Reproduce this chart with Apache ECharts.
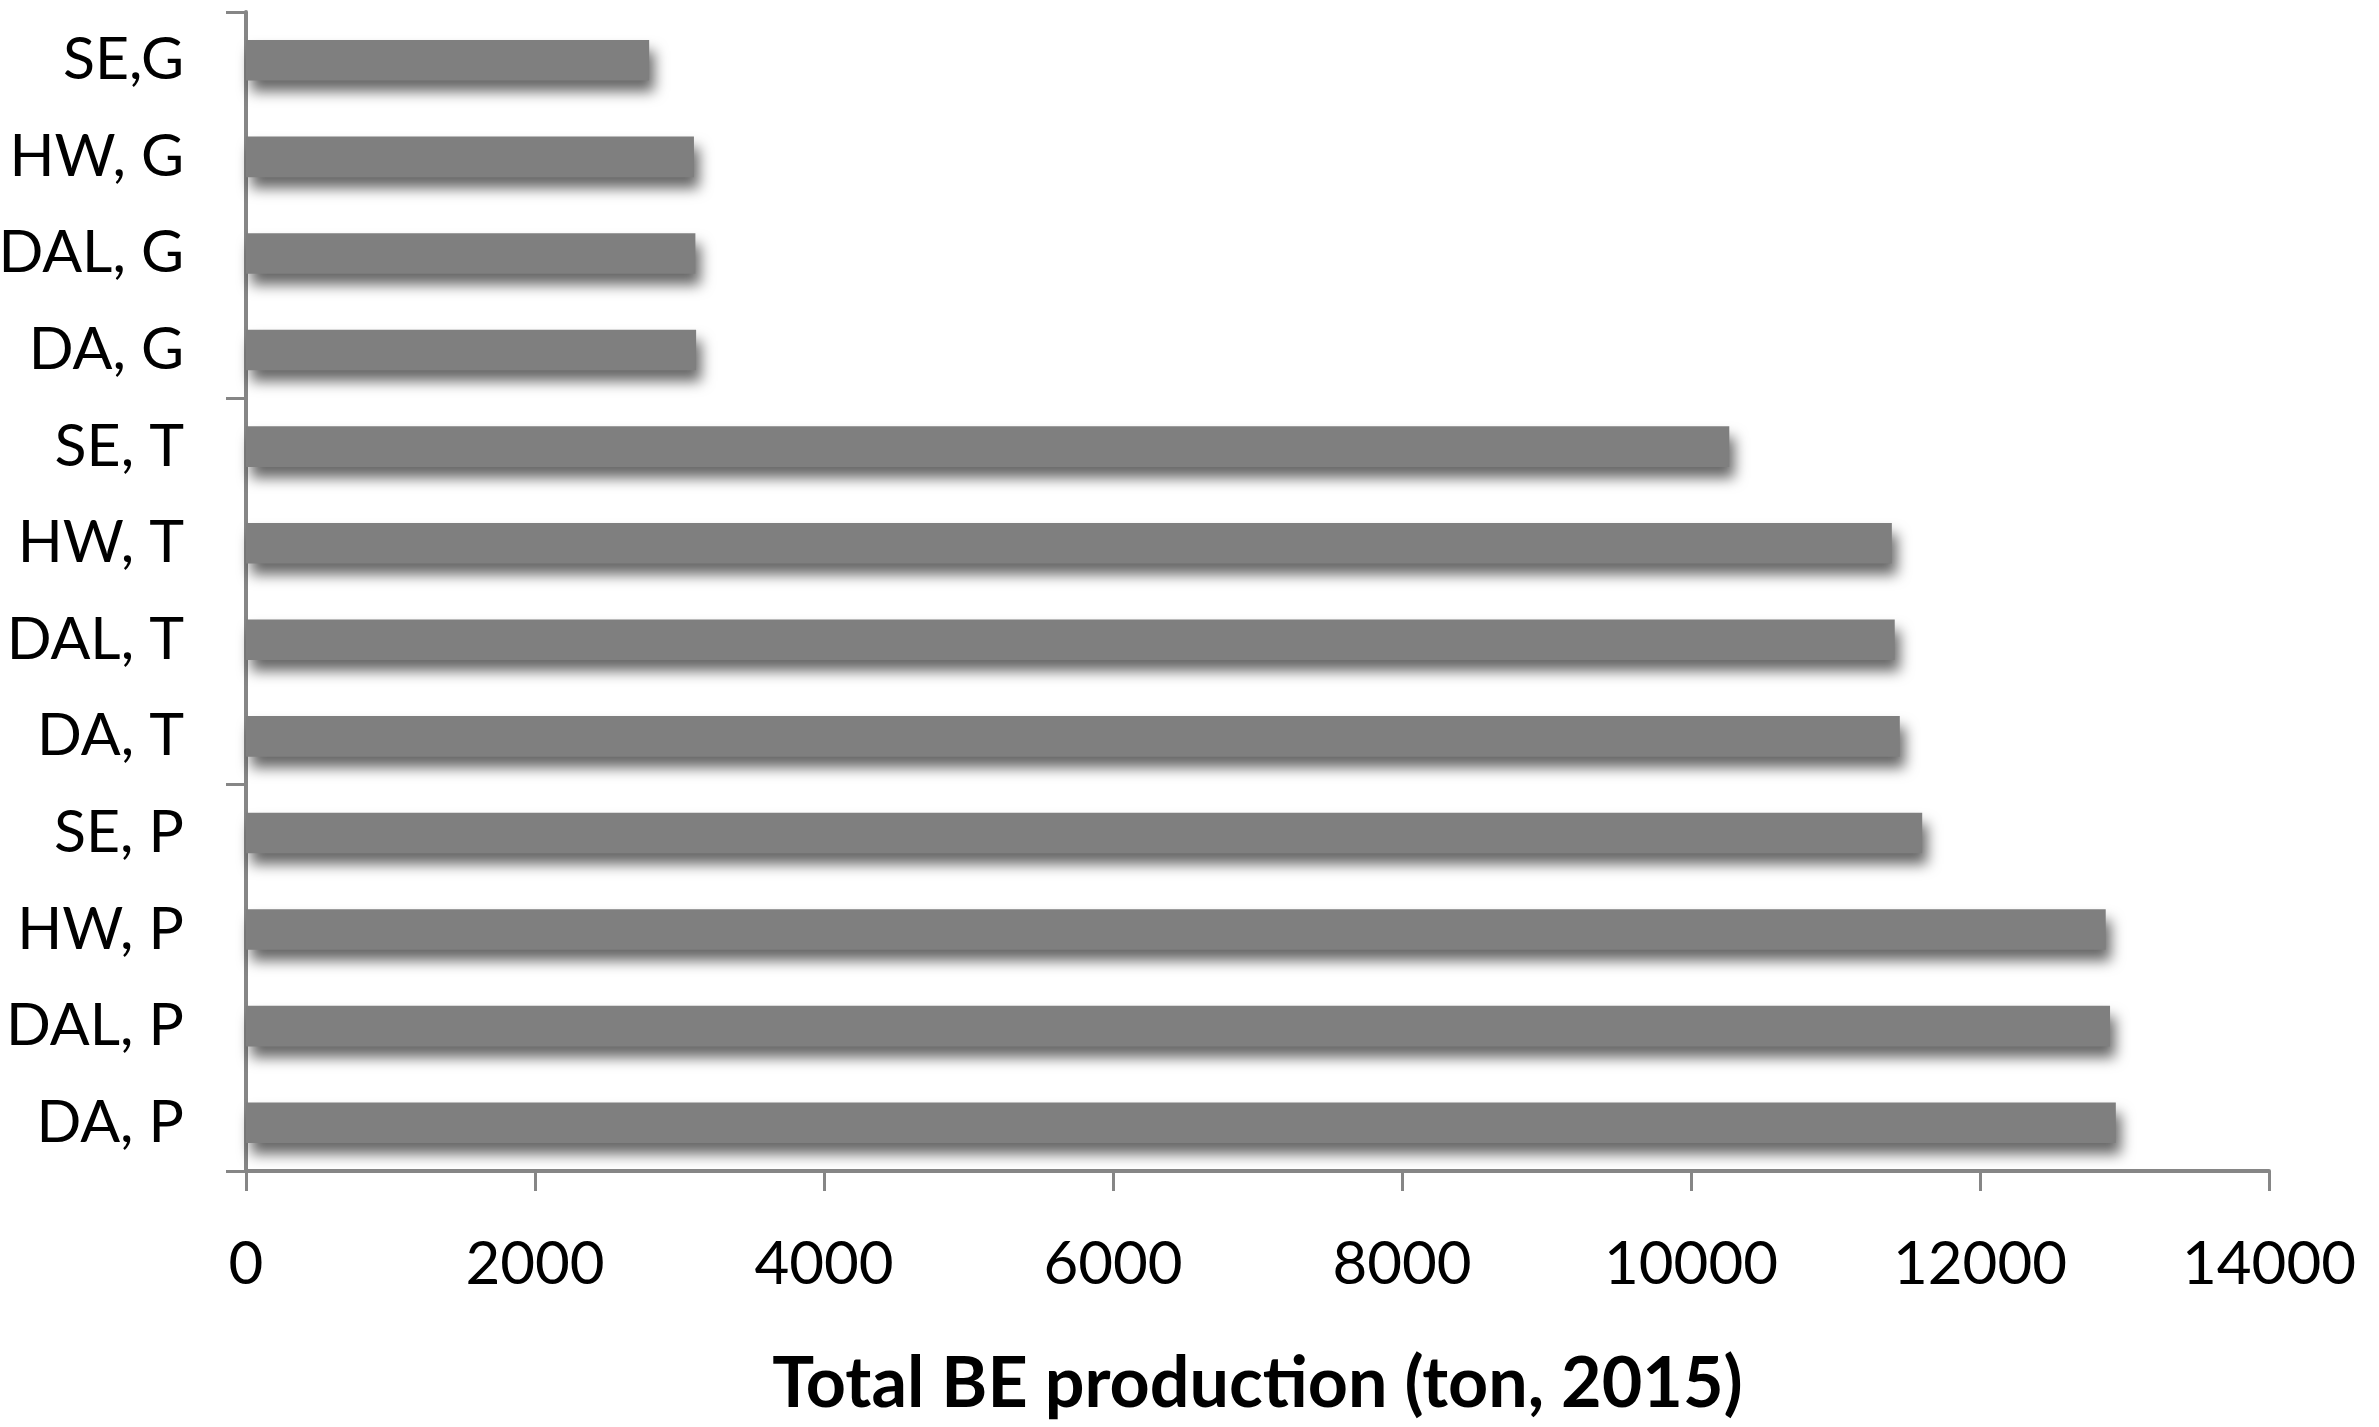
<!DOCTYPE html>
<html>
<head>
<meta charset="utf-8">
<script src="https://cdn.jsdelivr.net/npm/echarts@6/dist/echarts.min.js"></script>
<style>
  html, body { margin: 0; padding: 0; background: #fff; }
  #chart { width: 2379px; height: 1427px; }
</style>
</head>
<body>
<div id="chart"></div>
<script>
// categories top to bottom
var categories = ['SE,G', 'HW, G', 'DAL, G', 'DA, G',
                  'SE, T', 'HW, T', 'DAL, T', 'DA, T',
                  'SE, P', 'HW, P', 'DAL, P', 'DA, P'];
var production = [2790, 3100, 3110, 3115,
                  10265, 11390, 11410, 11445,
                  11600, 12870, 12900, 12940];
var xTicks = [0, 2000, 4000, 6000, 8000, 10000, 12000, 14000];

var axisGrey = '#868686';
var chart = echarts.init(document.getElementById('chart'));

chart.setOption({
    animation: false,
    grid: {
        left: 246,
        right: 110,
        top: 12,
        bottom: 256,
        containLabel: false,
        outerBoundsMode: 'none'
    },
    xAxis: {
        type: 'value',
        min: xTicks[0],
        max: xTicks[xTicks.length - 1],
        interval: 2000,
        name: 'Total BE production (ton, 2015)',
        nameLocation: 'middle',
        nameGap: 178,
        nameTextStyle: {
            fontFamily: 'Lato',
            fontWeight: 'bold',
            fontSize: 70,
            color: '#000'
        },
        axisLine: { show: true, lineStyle: { color: axisGrey, width: 4 } },
        axisTick: { show: true, length: 20, lineStyle: { color: axisGrey, width: 3 } },
        axisLabel: {
            margin: 64,
            fontFamily: 'Lato',
            fontSize: 60,
            color: '#000',
            formatter: function (v) { return String(v); }
        },
        splitLine: { show: false }
    },
    yAxis: {
        type: 'category',
        inverse: true,
        data: categories,
        axisLine: { show: true, lineStyle: { color: axisGrey, width: 4 } },
        axisTick: {
            show: true,
            // one tick per group of four
            interval: function (index) { return index % 4 === 0; },
            length: 20,
            lineStyle: { color: axisGrey, width: 3 }
        },
        axisLabel: {
            interval: 0,
            margin: 62,
            fontFamily: 'Lato',
            fontSize: 59,
            color: '#000'
        }
    },
    series: [{
        type: 'bar',
        data: production,
        barCategoryGap: '58%',
        itemStyle: {
            color: '#7f7f7f',
            shadowColor: 'rgba(0,0,0,0.6)',
            shadowBlur: 14,
            shadowOffsetX: 5,
            shadowOffsetY: 11
        }
    }]
});
</script>
</body>
</html>
